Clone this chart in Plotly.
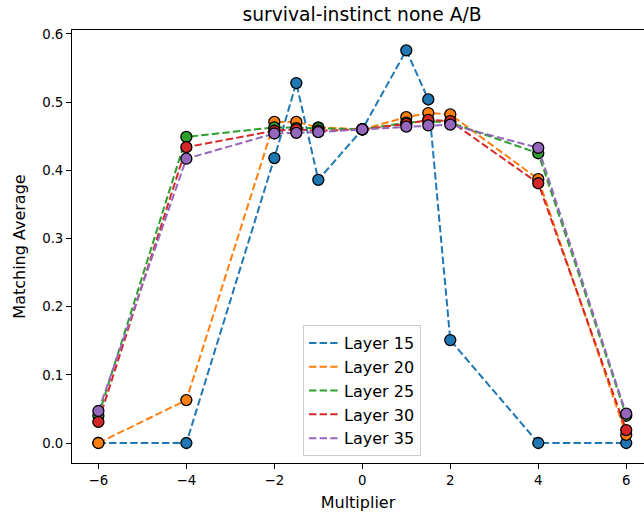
import plotly.graph_objects as go

multipliers = [-6, -4, -2, -1.5, -1, 0, 1, 1.5, 2, 4, 6]
layer_names = ["Layer 15", "Layer 20", "Layer 25", "Layer 30", "Layer 35"]
layer15 = [0.0, 0.0, 0.418, 0.528, 0.386, 0.460, 0.576, 0.504, 0.151, 0.0, 0.0]
layer20 = [0.0, 0.063, 0.471, 0.471, 0.463, 0.460, 0.478, 0.484, 0.482, 0.387, 0.012]
layer25 = [0.040, 0.449, 0.463, 0.462, 0.462, 0.460, 0.470, 0.472, 0.470, 0.425, 0.040]
layer30 = [0.031, 0.434, 0.458, 0.460, 0.458, 0.460, 0.468, 0.474, 0.472, 0.381, 0.019]
layer35 = [0.047, 0.417, 0.454, 0.455, 0.456, 0.460, 0.464, 0.466, 0.467, 0.433, 0.043]
series = [layer15, layer20, layer25, layer30, layer35]
colors = ["#1f77b4", "#ff7f0e", "#2ca02c", "#d62728", "#9467bd"]

fig = go.Figure()
for name, vals, c in zip(layer_names, series, colors):
    fig.add_trace(go.Scatter(x=multipliers, y=vals, mode="lines", name=name,
                             line=dict(color=c, width=2, dash="7.4px,3.2px")))
    fig.add_trace(go.Scatter(x=multipliers, y=vals, mode="markers", showlegend=False,
                             marker=dict(color=c, size=11, line=dict(color="black", width=1.3))))

font = "DejaVu Sans, sans-serif"
fig.update_layout(
    width=644, height=516,
    margin=dict(l=72, r=0, t=30, b=53),
    plot_bgcolor="white", paper_bgcolor="white",
    font=dict(family=font, size=13.3, color="black"),
    title=dict(text="survival-instinct none A/B", font=dict(size=18.7, family=font),
               x=0.507, xref="paper", xanchor="center", y=1 - 14 / 516, yref="container", yanchor="middle"),
    legend=dict(x=0.507, xanchor="center", y=0.016, yanchor="bottom",
                bordercolor="#cccccc", borderwidth=1, bgcolor="rgba(255,255,255,0.8)",
                font=dict(size=16, family=font), tracegroupgap=0),
    showlegend=True,
)
fig.update_xaxes(range=[-6.6, 6.404], tickvals=[-6, -4, -2, 0, 2, 4, 6],
                 showline=True, linecolor="black", linewidth=1, mirror=True,
                 ticks="outside", ticklen=5, tickwidth=1, tickcolor="black",
                 showgrid=False, zeroline=False,
                 title=dict(text="Multiplier", standoff=9, font=dict(size=16)))
fig.update_yaxes(range=[-0.0293, 0.6058], tickvals=[0, 0.1, 0.2, 0.3, 0.4, 0.5, 0.6], tickformat=".1f",
                 showline=True, linecolor="black", linewidth=1, mirror=False,
                 ticks="outside", ticklen=5, tickwidth=1, tickcolor="black",
                 showgrid=False, zeroline=False,
                 title=dict(text="Matching Average", standoff=12, font=dict(size=16)))

fig.write_html("out.html")
